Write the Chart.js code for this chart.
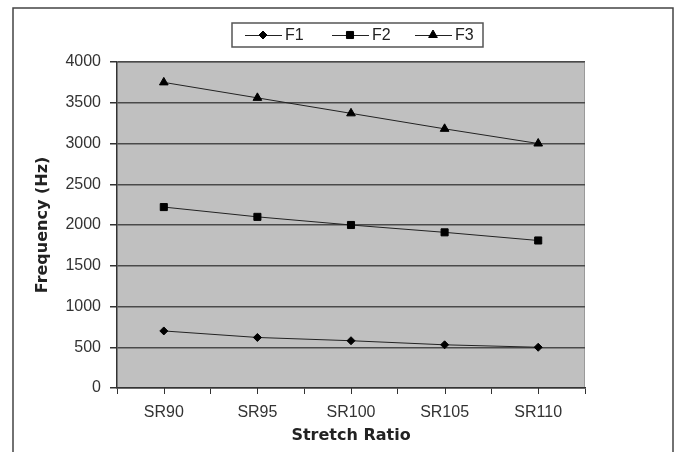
<!DOCTYPE html>
<html>
<head>
<meta charset="utf-8">
<script src="https://cdn.jsdelivr.net/npm/chart.js@4/dist/chart.umd.min.js"></script>
<style>
  html, body { margin: 0; padding: 0; background: #fff; }
  #wrap { width: 682px; height: 452px; }
</style>
</head>
<body>
<div id="wrap"><canvas id="chart" width="682" height="452"></canvas></div>
<script>
const categories = ['SR90', 'SR95', 'SR100', 'SR105', 'SR110'];
const f1 = [700, 620, 580, 530, 500];
const f2 = [2220, 2100, 2000, 1910, 1810];
const f3 = [3750, 3560, 3370, 3180, 3000];
const seriesNames = ['F1', 'F2', 'F3'];
const yMin = 0, yMax = 4000, yStep = 500;

const tickFont = { family: '"Liberation Sans", Arial, sans-serif', size: 16 };
const titleFont = { family: '"DejaVu Sans", Verdana, sans-serif', size: 16, weight: 'bold' };

// outer frame (left, top, right only - bottom is cut off in the original)
const framePlugin = {
  id: 'frame',
  beforeDraw(chart){
    const ctx = chart.ctx;
    ctx.save();
    ctx.fillStyle = '#fff';
    ctx.fillRect(0, 0, chart.width, chart.height);
    ctx.strokeStyle = '#444';
    ctx.lineWidth = 1.5;
    ctx.beginPath();
    ctx.moveTo(13, chart.height);
    ctx.lineTo(13, 8);
    ctx.lineTo(673, 8);
    ctx.lineTo(673, chart.height);
    ctx.stroke();
    ctx.restore();
  }
};

// grey plot area
const plotBg = {
  id: 'plotBg',
  beforeDraw(chart){
    const a = chart.chartArea, ctx = chart.ctx;
    ctx.save();
    ctx.fillStyle = '#c0c0c0';
    ctx.fillRect(a.left, a.top, a.right - a.left, a.bottom - a.top);
    ctx.strokeStyle = '#9a9a9a';
    ctx.lineWidth = 1;
    ctx.beginPath();
    ctx.moveTo(a.left, a.top + 0.5);
    ctx.lineTo(a.right - 0.5, a.top + 0.5);
    ctx.lineTo(a.right - 0.5, a.bottom);
    ctx.stroke();
    ctx.restore();
  }
};

// extra x tick marks under each category (boundary ticks come from the grid)
const centerTicks = {
  id: 'centerTicks',
  afterDraw(chart){
    const x = chart.scales.x, ctx = chart.ctx;
    ctx.save();
    ctx.strokeStyle = '#333';
    ctx.lineWidth = 1;
    categories.forEach((c, i) => {
      const px = Math.round(x.getPixelForValue(i)) + 0.5;
      ctx.beginPath();
      ctx.moveTo(px, x.top);
      ctx.lineTo(px, x.top + 6);
      ctx.stroke();
    });
    ctx.restore();
  }
};

// excel style legend: line sample with marker, boxed
const boxLegend = {
  id: 'boxLegend',
  afterDraw(chart){
    const ctx = chart.ctx;
    const box = { x: 232, y: 23, w: 251, h: 24 };
    ctx.save();
    ctx.fillStyle = '#fff';
    ctx.fillRect(box.x, box.y, box.w, box.h);
    ctx.strokeStyle = '#555';
    ctx.lineWidth = 1.5;
    ctx.strokeRect(box.x, box.y, box.w, box.h);
    const cy = box.y + box.h / 2;
    const starts = [245, 332, 415];
    chart.data.datasets.forEach((ds, i) => {
      const sx = starts[i];
      ctx.strokeStyle = '#222';
      ctx.lineWidth = 1;
      ctx.beginPath();
      ctx.moveTo(sx, cy + 0.5);
      ctx.lineTo(sx + 37, cy + 0.5);
      ctx.stroke();
      ctx.fillStyle = '#000';
      ctx.strokeStyle = '#000';
      Chart.helpers.drawPoint(ctx, { pointStyle: ds.pointStyle, radius: ds.pointRadius, borderWidth: 1 }, sx + 18, cy);
      ctx.fillStyle = '#222';
      ctx.font = '16px "Liberation Sans", Arial, sans-serif';
      ctx.textBaseline = 'middle';
      ctx.textAlign = 'left';
      ctx.fillText(ds.label, sx + 40, cy + 1);
    });
    ctx.restore();
  }
};

const styles = [
  { pointStyle: 'rectRot', pointRadius: 4 },
  { pointStyle: 'rect', pointRadius: 5 },
  { pointStyle: 'triangle', pointRadius: 5 }
];
const datasets = [f1, f2, f3].map((d, i) => ({
  label: seriesNames[i],
  data: d,
  borderColor: '#222',
  borderWidth: 1,
  backgroundColor: '#000',
  pointBackgroundColor: '#000',
  pointBorderColor: '#000',
  pointStyle: styles[i].pointStyle,
  pointRadius: styles[i].pointRadius,
  tension: 0,
  fill: false
}));

new Chart(document.getElementById('chart'), {
  type: 'line',
  data: { labels: categories, datasets },
  plugins: [framePlugin, plotBg, centerTicks, boxLegend],
  options: {
    responsive: false,
    animation: false,
    events: [],
    layout: { padding: { left: 30, right: 97, top: 62, bottom: 0 } },
    plugins: { legend: { display: false }, tooltip: { enabled: false } },
    scales: {
      x: {
        offset: true,
        afterFit(s){ s.height = 64; },
        grid: { offset: true, drawOnChartArea: false, tickLength: 6, color: '#333', lineWidth: 1 },
        border: { color: '#333', width: 1.5 },
        ticks: { font: tickFont, color: '#333', padding: 9, maxRotation: 0 },
        title: { display: true, text: 'Stretch Ratio', font: titleFont, color: '#222', padding: { top: 0, bottom: 7 } }
      },
      y: {
        min: yMin, max: yMax,
        afterFit(s){ s.width = 87; },
        grid: { color: '#4a4a4a', lineWidth: 1.5, tickLength: 7, tickColor: '#333' },
        border: { color: '#333', width: 1.5 },
        ticks: { stepSize: yStep, font: tickFont, color: '#333', padding: 9, callback: v => String(v) },
        title: { display: true, text: 'Frequency (Hz)', font: titleFont, color: '#222', padding: { top: 3, bottom: 4 } }
      }
    }
  }
});
</script>
</body>
</html>
